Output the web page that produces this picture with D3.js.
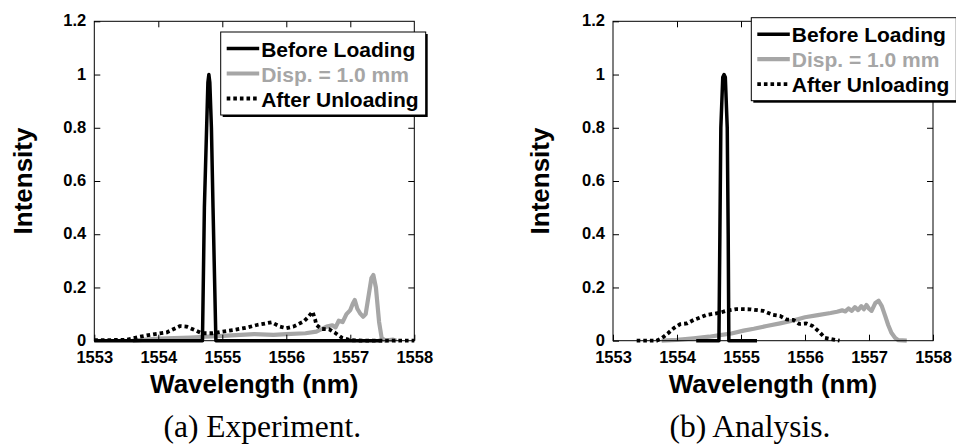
<!DOCTYPE html>
<html>
<head>
<meta charset="utf-8">
<script src="https://cdn.jsdelivr.net/npm/d3@7"></script>
<style>
  body { margin: 0; background: #fff; }
  svg { display: block; }
  .tick text { font-family: "Liberation Sans", Arial, sans-serif; font-weight: bold; font-size: 16.5px; fill: #000; }
</style>
</head>
<body>
<svg id="chart" width="956" height="446"></svg>
<script>
  // axis values
  var xTicks = [1553, 1554, 1555, 1556, 1557, 1558];
  var yTicks = [0, 0.2, 0.4, 0.6, 0.8, 1, 1.2];
  var seriesNames = ['Before Loading', 'Disp. = 1.0 mm', 'After Unloading'];
  var captions = ['(a) Experiment.', '(b) Analysis.'];

  // (a) experiment, [wavelength nm, intensity]
  var expBefore = [[1553.0, 0], [1554.69, 0], [1554.72, 0.5], [1554.755, 0.8], [1554.775, 0.97], [1554.79, 1.0],
    [1554.805, 0.97], [1554.83, 0.8], [1554.855, 0.5], [1554.90, 0], [1557.5, 0]];
  var expDisp = [[1553.6, 0], [1554.0, 0.008], [1554.5, 0.012], [1555.0, 0.018], [1555.5, 0.025], [1555.8, 0.022],
    [1556.0, 0.025], [1556.3, 0.028], [1556.47, 0.034], [1556.63, 0.053], [1556.72, 0.058], [1556.77, 0.05],
    [1556.82, 0.075], [1556.88, 0.07], [1556.94, 0.1], [1557.0, 0.115], [1557.04, 0.14], [1557.07, 0.153],
    [1557.11, 0.12], [1557.15, 0.104], [1557.2, 0.09], [1557.24, 0.1], [1557.28, 0.16], [1557.33, 0.235],
    [1557.36, 0.247], [1557.4, 0.2], [1557.45, 0.07], [1557.49, 0.01], [1557.55, 0], [1557.67, 0.004], [1557.72, 0]];
  var expAfter = [[1553.0, 0.002], [1553.5, 0.003], [1553.71, 0.015], [1553.92, 0.024], [1554.13, 0.031],
    [1554.34, 0.055], [1554.44, 0.053], [1554.57, 0.04], [1554.68, 0.028], [1554.85, 0.028], [1554.99, 0.034],
    [1555.17, 0.04], [1555.38, 0.049], [1555.54, 0.059], [1555.77, 0.069], [1555.9, 0.053], [1556.0, 0.047],
    [1556.11, 0.053], [1556.21, 0.065], [1556.27, 0.072], [1556.34, 0.088], [1556.41, 0.109], [1556.45, 0.08],
    [1556.47, 0.059], [1556.55, 0.044], [1556.67, 0.043], [1556.76, 0.03], [1556.87, 0.011], [1557.0, 0.002],
    [1557.2, 0], [1558.0, 0]];

  // (b) analysis
  var anaBefore = [[1554.3, 0], [1554.655, 0], [1554.67, 0.4], [1554.685, 0.8], [1554.715, 0.99], [1554.735, 1.0],
    [1554.755, 0.99], [1554.785, 0.8], [1554.80, 0.4], [1554.81, 0], [1555.25, 0]];
  var anaDisp = [[1553.76, 0], [1554.0, 0.003], [1554.26, 0.009], [1554.5, 0.015], [1554.67, 0.021],
    [1554.85, 0.027], [1555.04, 0.038], [1555.2, 0.045], [1555.4, 0.055], [1555.61, 0.065], [1555.8, 0.075],
    [1556.0, 0.088], [1556.2, 0.096], [1556.4, 0.104], [1556.5, 0.109], [1556.58, 0.114], [1556.63, 0.11],
    [1556.68, 0.121], [1556.73, 0.112], [1556.78, 0.126], [1556.83, 0.115], [1556.88, 0.13], [1556.92, 0.118],
    [1556.96, 0.134], [1557.0, 0.12], [1557.04, 0.112], [1557.1, 0.142], [1557.15, 0.15], [1557.2, 0.13],
    [1557.25, 0.095], [1557.3, 0.059], [1557.35, 0.03], [1557.41, 0.01], [1557.46, 0.002], [1557.59, 0]];
  var anaAfter = [[1553.37, 0], [1553.68, 0], [1553.76, 0.009], [1553.86, 0.028], [1553.95, 0.047],
    [1554.05, 0.062], [1554.16, 0.065], [1554.26, 0.078], [1554.36, 0.087], [1554.46, 0.097], [1554.54, 0.1],
    [1554.67, 0.105], [1554.78, 0.113], [1554.93, 0.119], [1555.14, 0.118], [1555.35, 0.112], [1555.5, 0.097],
    [1555.61, 0.093], [1555.71, 0.08], [1555.82, 0.078], [1555.91, 0.063], [1556.02, 0.065], [1556.12, 0.055],
    [1556.22, 0.034], [1556.31, 0.011], [1556.43, 0.005], [1556.54, 0]];

  var styles = [
    {color: '#000', width: 3.5, dash: null},
    {color: '#a6a6a6', width: 4.2, dash: null},
    {color: '#000', width: 3.8, dash: '3.6,3'}
  ];

  var W = 320, H = 319.4;
  var svg = d3.select('#chart');
  var x = d3.scaleLinear().domain([1553, 1558]).range([0, W]);
  var y = d3.scaleLinear().domain([0, 1.2]).range([H, 0]);
  var line = d3.line().x(function (d) { return x(d[0]); }).y(function (d) { return y(d[1]); });
  var fmtY = function (d) { return String(+d.toFixed(1)); };

  var drawPanel = function (p) {
    var g = svg.append('g').attr('transform', 'translate(' + p.left + ',' + p.top + ')');

    // series: before, disp, after (after drawn on top of disp)
    var order = [1, 2, 0];
    order.forEach(function (i) {
      var s = styles[i];
      g.append('path')
          .datum(p.series[i])
          .attr('d', line)
          .attr('fill', 'none')
          .attr('stroke', s.color)
          .attr('stroke-width', s.width)
          .attr('stroke-linejoin', 'round')
          .attr('stroke-dasharray', s.dash);
    });

    g.append('rect')
        .attr('width', W).attr('height', H)
        .attr('fill', 'none').attr('stroke', '#000').attr('stroke-width', 1);

    var bottom = g.append('g').attr('transform', 'translate(0,' + H + ')')
        .call(d3.axisBottom(x).tickValues(xTicks).tickSizeInner(-6).tickSizeOuter(0).tickPadding(11).tickFormat(d3.format('d')));
    var left = g.append('g')
        .call(d3.axisLeft(y).tickValues(yTicks).tickSizeInner(-6).tickSizeOuter(0).tickPadding(8).tickFormat(fmtY));
    left.selectAll('.tick text').attr('dy', '0.28em');
    var top = g.append('g')
        .call(d3.axisTop(x).tickValues(xTicks.slice(1, -1)).tickSizeInner(-6).tickSizeOuter(0).tickFormat(''));
    var right = g.append('g').attr('transform', 'translate(' + W + ',0)')
        .call(d3.axisRight(y).tickValues(yTicks.slice(1, -1)).tickSizeInner(-6).tickSizeOuter(0).tickFormat(''));
    [bottom, left, top, right].forEach(function (a) {
      a.select('.domain').remove();
      a.selectAll('.tick line').attr('stroke', '#000').attr('stroke-width', 1);
      a.attr('font-size', null).attr('font-family', null);
    });

    // axis titles
    g.append('text')
        .attr('x', p.xTitleX).attr('y', H + 52)
        .attr('text-anchor', 'middle')
        .style('font-family', '"Liberation Sans", Arial, sans-serif')
        .style('font-weight', 'bold').style('font-size', '26px')
        .text('Wavelength (nm)');
    g.append('text')
        .attr('transform', 'translate(' + p.yTitleX + ',' + (H / 2) + ') rotate(-90)')
        .attr('text-anchor', 'middle')
        .style('font-family', '"Liberation Sans", Arial, sans-serif')
        .style('font-weight', 'bold').style('font-size', '26px')
        .text('Intensity');

    // caption
    g.append('text')
        .attr('x', p.captionX).attr('y', 437 - p.top)
        .attr('text-anchor', 'middle')
        .style('font-family', '"Liberation Serif", "Times New Roman", serif')
        .style('font-size', '31.5px')
        .text(p.caption);

    // legend
    var lg = g.append('g').attr('transform', 'translate(' + p.legend[0] + ',' + p.legend[1] + ')');
    lg.append('rect').attr('x', 2).attr('y', 2).attr('width', 205).attr('height', 83).attr('fill', '#000');
    lg.append('rect').attr('width', 205).attr('height', 83)
        .attr('fill', '#fff').attr('stroke', '#000').attr('stroke-width', 1);
    seriesNames.forEach(function (name, i) {
      var s = styles[i];
      var ly = 16.5 + i * 25;
      lg.append('line')
          .attr('x1', 6).attr('x2', 38.5).attr('y1', ly).attr('y2', ly)
          .attr('stroke', s.color).attr('stroke-width', s.width)
          .attr('stroke-dasharray', s.dash);
      lg.append('text')
          .attr('x', 40.5).attr('y', ly + 8)
          .attr('fill', s.color)
          .style('font-family', '"Liberation Sans", Arial, sans-serif')
          .style('font-weight', 'bold').style('font-size', '21px')
          .text(name);
    });
  };

  drawPanel({
    left: 94.3, top: 21.3,
    series: [expBefore, expDisp, expAfter],
    legend: [126.4, 10.7],
    xTitleX: 160, yTitleX: -62.5, captionX: 168,
    caption: captions[0]
  });
  drawPanel({
    left: 613, top: 21.3,
    series: [anaBefore, anaDisp, anaAfter],
    legend: [138.3, -3.6],
    xTitleX: 160, yTitleX: -64, captionX: 137,
    caption: captions[1]
  });
</script>
</body>
</html>
